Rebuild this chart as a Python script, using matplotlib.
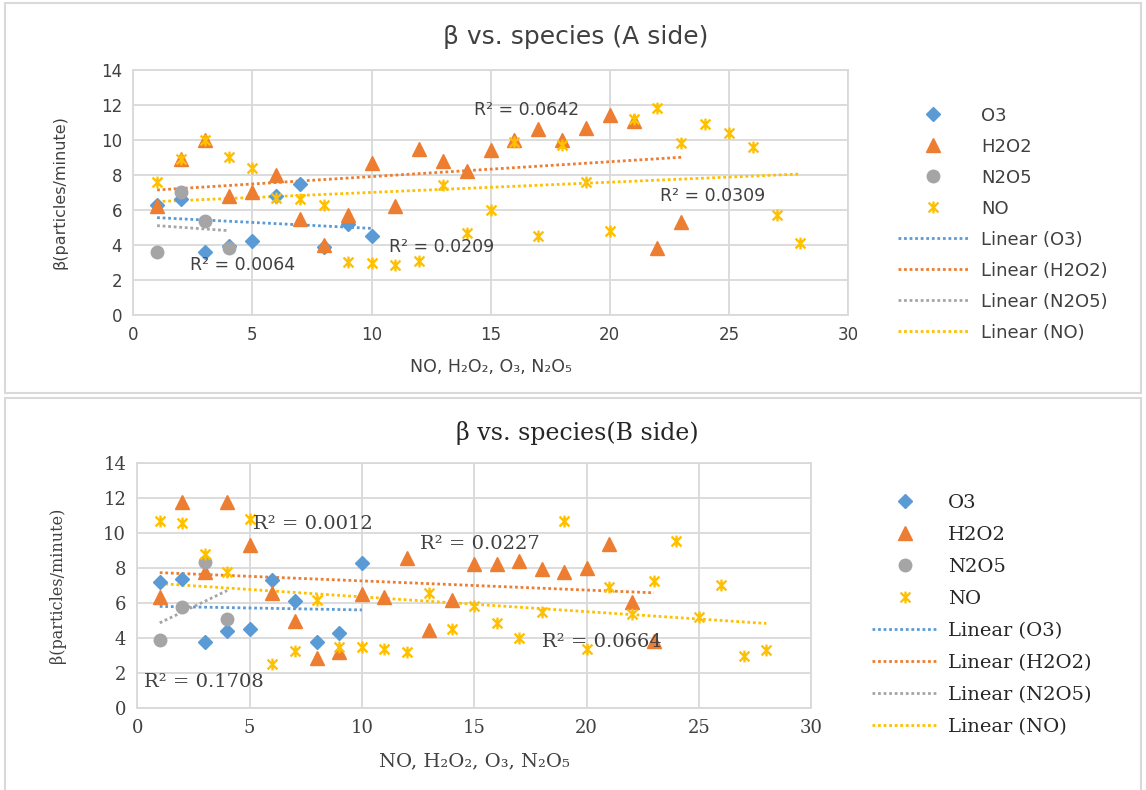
import numpy as np
import matplotlib
matplotlib.use("Agg")
import matplotlib.pyplot as plt
from matplotlib.path import Path
from matplotlib.patches import Rectangle

# ---- A side ----
a_o3_x = [1, 2, 3, 4, 5, 6, 7, 8, 9, 10]
a_o3_y = [6.3, 6.6, 3.6, 3.95, 4.2, 6.8, 7.5, 3.9, 5.2, 4.5]
a_h2o2_x = list(range(1, 24))
a_h2o2_y = [6.2, 8.9, 10.0, 6.8, 7.0, 8.0, 5.5, 4.0, 5.7, 8.7, 6.2, 9.5,
            8.8, 8.2, 9.4, 10.0, 10.6, 10.0, 10.7, 11.4, 11.1, 3.8, 5.3]
a_n2o5_x = [1, 2, 3, 4]
a_n2o5_y = [3.6, 7.05, 5.35, 3.85]
a_no_x = list(range(1, 29))
a_no_y = [7.6, 8.9, 10.0, 9.0, 8.4, 6.7, 6.6, 6.3, 3.0, 2.95, 2.85, 3.1,
          7.4, 4.7, 6.0, 9.9, 4.5, 9.7, 7.6, 4.8, 11.2, 11.8, 9.8, 10.9,
          10.4, 9.6, 5.7, 4.1]
a_r2_text = ["R² = 0.0642", "R² = 0.0309", "R² = 0.0209", "R² = 0.0064"]
a_r2_pos = [(14.3, 11.7), (22.1, 6.8), (10.75, 3.9), (2.4, 2.86)]

# ---- B side ----
b_o3_x = [1, 2, 3, 4, 5, 6, 7, 8, 9, 10]
b_o3_y = [7.2, 7.4, 3.75, 4.4, 4.5, 7.3, 6.1, 3.8, 4.3, 8.3]
b_h2o2_x = list(range(1, 24))
b_h2o2_y = [6.35, 11.8, 7.8, 11.8, 9.3, 6.6, 5.0, 2.85, 3.2, 6.5, 6.35, 8.6,
            4.45, 6.2, 8.25, 8.25, 8.4, 7.95, 7.75, 8.0, 9.35, 6.05, 3.85]
b_n2o5_x = [1, 2, 3, 4]
b_n2o5_y = [3.9, 5.8, 8.35, 5.1]
b_no_x = list(range(1, 29))
b_no_y = [10.7, 10.6, 8.8, 7.8, 10.8, 2.5, 3.25, 6.2, 3.5, 3.5, 3.35, 3.2,
          6.6, 4.5, 5.85, 4.85, 4.0, 5.5, 10.7, 3.4, 6.9, 5.35, 7.25, 9.55,
          5.2, 7.05, 3.0, 3.3]
b_r2_text = ["R² = 0.0012", "R² = 0.0227", "R² = 0.1708", "R² = 0.0664"]
b_r2_pos = [(5.17, 10.5), (12.57, 9.36), (0.3, 1.5), (18.0, 3.78)]

names = ["O3", "H2O2", "N2O5", "NO"]
colors = ["#5B9BD5", "#ED7D31", "#A5A5A5", "#FFC000"]

# excel style "star": an X with a vertical bar through it
star = Path([(-1, -1), (1, 1), (-1, 1), (1, -1), (0, -1.2), (0, 1.2)],
            [Path.MOVETO, Path.LINETO] * 3)
markers = [dict(marker="D", ms=7),
           dict(marker="^", ms=10),
           dict(marker="o", ms=9),
           dict(marker=star, ms=8.5, mew=1.7, mfc="none")]

GRID = "#D9D9D9"


def draw_panel(ax, series, r2_text, r2_pos, fam, fs):
    pts, lines = [], []
    for (x, y), c, mk in zip(series, colors, markers):
        h, = ax.plot(x, y, ls="none", color=c, mec=c, **mk, zorder=3)
        pts.append(h)
    for (x, y), c in zip(series, colors):
        # linear trendline over the span of the series
        k, b = np.polyfit(x, y, 1)
        xx = np.array([min(x), max(x)])
        h, = ax.plot(xx, k * xx + b, color=c, lw=2, ls=(0, (1, 1)), zorder=2)
        lines.append(h)

    for t, (tx, ty) in zip(r2_text, r2_pos):
        ax.text(tx, ty, t, family=fam, fontsize=fs["r2"], color="#404040",
                va="center", ha="left", zorder=4)

    ax.set_xlim(0, 30)
    ax.set_ylim(0, 14)
    ax.set_xticks(range(0, 31, 5))
    ax.set_yticks(range(0, 15, 2))
    ax.grid(color=GRID, lw=1.3)
    ax.set_axisbelow(True)
    for s in ax.spines.values():
        s.set_color(GRID)
        s.set_linewidth(1.3)
    ax.tick_params(length=0, labelsize=fs["tick"], labelcolor="#404040", pad=8)
    for lab in ax.get_xticklabels() + ax.get_yticklabels():
        lab.set_family(fam)

    ax.set_xlabel("NO, H₂O₂, O₃, N₂O₅", family=fam, fontsize=fs["xlab"],
                  color="#404040", labelpad=fs["xpad"])
    ax.set_ylabel("β(particles/minute)", family=fam, fontsize=fs["ylab"],
                  color="#404040", labelpad=fs["ypad"])
    return pts + lines


fig = plt.figure(figsize=(11.46, 7.90), dpi=100)

# chart area borders
fig.patches.append(Rectangle((0.004, 0.503), 0.992, 0.493, transform=fig.transFigure,
                             fill=False, ec=GRID, lw=1.5))
fig.patches.append(Rectangle((0.004, -0.01), 0.992, 0.506, transform=fig.transFigure,
                             fill=False, ec=GRID, lw=1.5))

sans = ["DejaVu Sans"]
serif = ["DejaVu Serif"]
labels = names + [f"Linear ({n})" for n in names]

ax1 = fig.add_axes([0.1163, 0.6013, 0.6237, 0.3101])
h1 = draw_panel(ax1, [(a_o3_x, a_o3_y), (a_h2o2_x, a_h2o2_y),
                      (a_n2o5_x, a_n2o5_y), (a_no_x, a_no_y)],
                a_r2_text, a_r2_pos, sans,
                dict(r2=12.5, tick=12, xlab=12.5, ylab=11.5, xpad=10, ypad=24))
fig.text(0.502, 0.953, "β vs. species (A side)", family=sans, fontsize=18,
         color="#404040", ha="center", va="center")
fig.legend(h1, labels, loc="upper left",
           bbox_to_anchor=(0.7836, 0.865), frameon=False, prop=dict(family=sans, size=13),
           handlelength=3.9, handletextpad=0.7, labelspacing=0.72,
           borderpad=0, borderaxespad=0, numpoints=1, labelcolor="#404040")

ax2 = fig.add_axes([0.1198, 0.1038, 0.5881, 0.3101])
h2 = draw_panel(ax2, [(b_o3_x, b_o3_y), (b_h2o2_x, b_h2o2_y),
                      (b_n2o5_x, b_n2o5_y), (b_no_x, b_no_y)],
                b_r2_text, b_r2_pos, serif,
                dict(r2=14, tick=13, xlab=14, ylab=11.5, xpad=11, ypad=27))
fig.text(0.504, 0.452, "β vs. species(B side)", family=serif, fontsize=17,
         color="#262626", ha="center", va="center")
fig.legend(h2, labels, loc="upper left",
           bbox_to_anchor=(0.761, 0.375), frameon=False, prop=dict(family=serif, size=14),
           handlelength=3.35, handletextpad=0.57, labelspacing=0.72,
           borderpad=0, borderaxespad=0, numpoints=1, labelcolor="#262626")

fig.savefig("out.png", dpi=100)
